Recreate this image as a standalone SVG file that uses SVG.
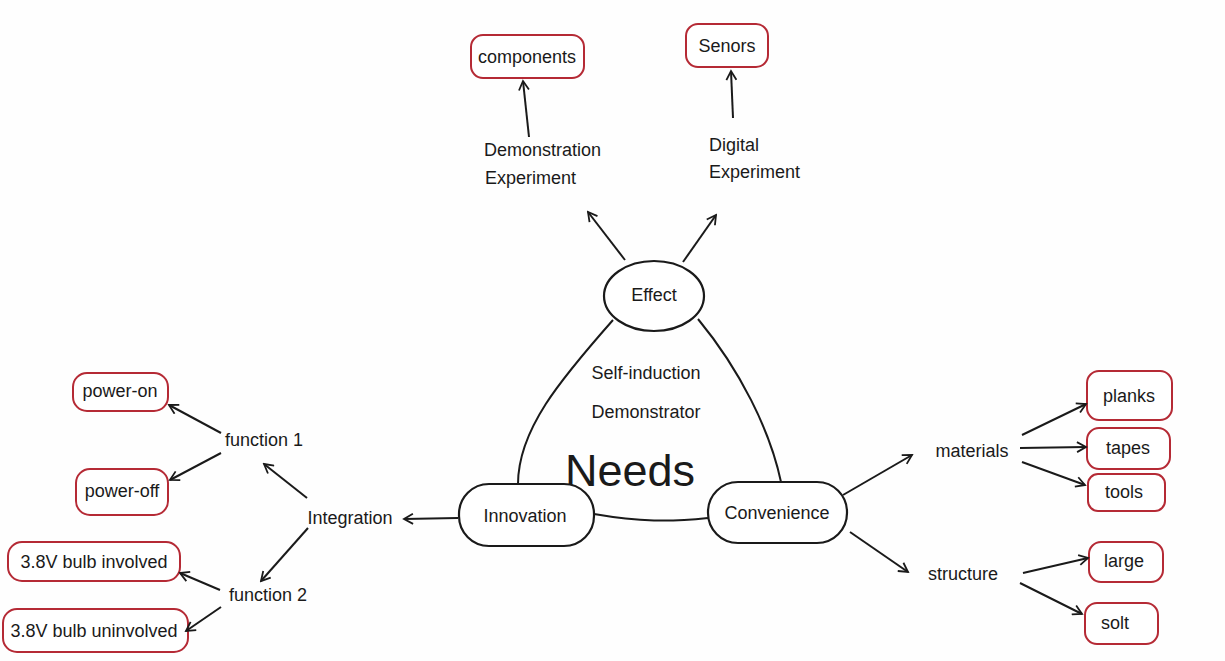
<svg xmlns="http://www.w3.org/2000/svg" width="1225" height="661" viewBox="0 0 1225 661">
<defs>
<style>
text{font-family:"Liberation Sans","DejaVu Sans",sans-serif;fill:#1a1a1a;font-size:18px;text-anchor:middle;dominant-baseline:central}
.st{text-anchor:start}
.box{fill:#fff;stroke:#b52a35;stroke-width:2}
.node{fill:#fff;stroke:#1a1a1a;stroke-width:2.2}
.line{fill:none;stroke:#1a1a1a;stroke-width:2}
.arr{fill:none;stroke:#1a1a1a;stroke-width:2;marker-end:url(#ah)}
</style>
<marker id="ah" viewBox="0 0 12 12" refX="10" refY="6" markerWidth="12" markerHeight="12" markerUnits="userSpaceOnUse" orient="auto">
<path d="M1,1 L10,6 L1,11" fill="none" stroke="#1a1a1a" stroke-width="1.8"/>
</marker>
</defs>
<rect width="1225" height="661" fill="#fefefe"/>

<g id="center">
<text x="646" y="373">Self-induction</text>
<text x="646" y="412">Demonstrator</text>
<text x="630" y="470" style="font-size:45px">Needs</text>
</g>

<g id="effect">
<ellipse class="node" cx="654" cy="296" rx="50" ry="35"/>
<text x="654" y="295">Effect</text>
</g>
<g id="innovation">
<rect class="node" x="459" y="484" width="135" height="62" rx="30"/>
<text x="525" y="516">Innovation</text>
</g>
<g id="convenience">
<rect class="node" x="708" y="482" width="139" height="61" rx="30"/>
<text x="777" y="513">Convenience</text>
</g>

<g id="demonstration"><text class="st" x="484" y="150">Demonstration</text><text class="st" x="485" y="178">Experiment</text></g>
<g id="digital"><text class="st" x="709" y="145">Digital</text><text class="st" x="709" y="172">Experiment</text></g>
<g id="components"><rect class="box" x="471" y="35" width="113" height="43" rx="12"/><text x="527" y="57">components</text></g>
<g id="senors"><rect class="box" x="686" y="24" width="82" height="43" rx="12"/><text x="727" y="46">Senors</text></g>

<g id="integration"><text x="350" y="518">Integration</text></g>
<g id="function1"><text x="264" y="440">function 1</text></g>
<g id="function2"><text x="268" y="595">function 2</text></g>
<g id="power-on"><rect class="box" x="73" y="373" width="95" height="38" rx="14"/><text x="120" y="391">power-on</text></g>
<g id="power-off"><rect class="box" x="76" y="469" width="92" height="46" rx="14"/><text x="122" y="491">power-off</text></g>
<g id="bulb-involved"><rect class="box" x="8" y="542" width="172" height="39" rx="14"/><text x="94" y="562">3.8V bulb involved</text></g>
<g id="bulb-uninvolved"><rect class="box" x="3" y="609" width="185" height="43" rx="14"/><text x="94" y="631">3.8V bulb uninvolved</text></g>

<g id="materials"><text x="972" y="451">materials</text></g>
<g id="structure"><text x="963" y="574">structure</text></g>
<g id="planks"><rect class="box" x="1087" y="371" width="85" height="49" rx="12"/><text x="1129" y="396">planks</text></g>
<g id="tapes"><rect class="box" x="1087" y="428" width="83" height="41" rx="12"/><text x="1128" y="448">tapes</text></g>
<g id="tools"><rect class="box" x="1088" y="474" width="77" height="37" rx="10"/><text x="1124" y="492">tools</text></g>
<g id="large"><rect class="box" x="1089" y="542" width="74" height="40" rx="12"/><text x="1124" y="561">large</text></g>
<g id="solt"><rect class="box" x="1085" y="603" width="73" height="41" rx="12"/><text x="1115" y="623">solt</text></g>

<g id="connectors">
<path class="line" d="M613,320 C560,380 518,430 518,484"/>
<path class="line" d="M698,319 C740,370 770,430 781,482"/>
<path class="line" d="M594,514 C640,522 670,522 708,518"/>
<path class="arr" d="M625,260 L588,212"/>
<path class="arr" d="M683,262 L716,215"/>
<path class="arr" d="M529,137 L523,81"/>
<path class="arr" d="M733,118 L731,71"/>
<path class="arr" d="M458,518 L404,519"/>
<path class="arr" d="M307,498 L264,464"/>
<path class="arr" d="M308,528 L261,581"/>
<path class="arr" d="M221,433 L169,405"/>
<path class="arr" d="M221,453 L170,480"/>
<path class="arr" d="M220,590 L180,573"/>
<path class="arr" d="M221,607 L186,631"/>
<path class="arr" d="M843,495 L912,455"/>
<path class="arr" d="M850,532 L908,572"/>
<path class="arr" d="M1022,435 L1086,404"/>
<path class="arr" d="M1020,448 L1086,447"/>
<path class="arr" d="M1022,462 L1085,485"/>
<path class="arr" d="M1023,573 L1088,558"/>
<path class="arr" d="M1020,583 L1082,614"/>
</g>
</svg>
